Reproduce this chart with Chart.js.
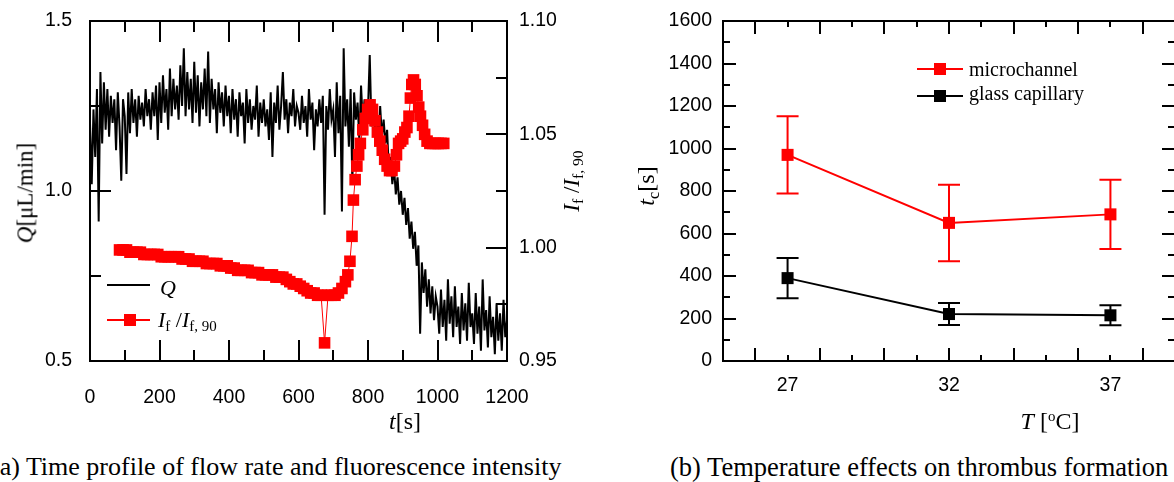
<!DOCTYPE html>
<html>
<head>
<meta charset="utf-8">
<script src="https://cdn.jsdelivr.net/npm/chart.js@4"></script>
<style>
  html, body { margin: 0; padding: 0; background: #fff; }
  body { width: 1174px; height: 482px; position: relative; overflow: hidden; }
  canvas { position: absolute; top: 0; }
  #chartA { left: 0; }
  #chartB { left: 600px; }
  .lbl { position: absolute; font-family: "Liberation Serif", "Times New Roman", serif; white-space: nowrap; line-height: 1; color: #000; }
  .ctr { transform: translate(-50%, -50%); }
  .rot { transform: translate(-50%, -50%) rotate(-90deg); }
  .lbl sub { font-size: 0.68em; vertical-align: -0.3em; line-height: 0; }
  .lbl sup { font-size: 0.62em; vertical-align: 0.55em; line-height: 0; }
  .ln { position: absolute; height: 2px; }
  .sq { position: absolute; width: 12px; height: 12px; }
</style>
</head>
<body>
<canvas id="chartA" width="600" height="440"></canvas>
<canvas id="chartB" width="580" height="440"></canvas>

<!-- panel (a) titles and legend -->
<div class="lbl rot" style="left:25px; top:193px; font-size:23px;"><i>Q</i>[μL/min]</div>
<div class="lbl rot" style="left:571px; top:181px; font-size:23px;"><i>I</i><sub>f</sub> /<i>I</i><sub>f, 90</sub></div>
<div class="lbl ctr" style="left:405px; top:421px; font-size:24px;"><i>t</i>[s]</div>
<div class="ln" style="left:107px; top:284px; width:43px; background:#000;"></div>
<div class="lbl" style="left:160px; top:277px; font-size:22px;"><i>Q</i></div>
<div class="ln" style="left:107px; top:319px; width:43px; background:#f00;"></div>
<div class="sq" style="left:124px; top:314px; background:#f00;"></div>
<div class="lbl" style="left:158px; top:309px; font-size:22px;"><i>I</i><sub>f</sub> /<i>I</i><sub>f, 90</sub></div>
<div class="lbl" style="left:-9px; top:454px; font-size:26px;">(a) Time profile of flow rate and fluorescence intensity</div>

<!-- panel (b) titles and legend -->
<div class="lbl rot" style="left:646px; top:186px; font-size:24px;"><i>t</i><sub>c</sub>[s]</div>
<div class="lbl ctr" style="left:1050px; top:421px; font-size:24px;"><i>T</i> [<sup>o</sup>C]</div>
<div class="ln" style="left:917px; top:68px; width:46px; background:#f00;"></div>
<div class="sq" style="left:934px; top:63px; background:#f00;"></div>
<div class="lbl" style="left:969px; top:59px; font-size:20px;">microchannel</div>
<div class="ln" style="left:917px; top:95px; width:46px; background:#000;"></div>
<div class="sq" style="left:934px; top:90px; background:#000;"></div>
<div class="lbl" style="left:969px; top:83px; font-size:20px;">glass capillary</div>
<div class="lbl" style="left:670px; top:454px; font-size:26.5px;">(b) Temperature effects on thrombus formation</div>

<script>
// ---- panel (a): flow rate Q, sampled every 5 s from 0 to 1200 s ----
const qStart = 0;
const qStep = 5;
const qValues = [
  1.20,1.02,1.24,1.10,1.30,0.91,1.35,1.14,1.32,1.18,1.30,1.16,1.28,1.20,1.27,1.12,1.29,1.19,1.03,1.27,
  1.22,1.05,1.29,1.17,1.30,1.20,1.27,1.16,1.28,1.21,1.26,1.19,1.30,1.22,1.27,1.18,1.29,1.22,1.31,1.15,
  1.32,1.20,1.34,1.23,1.30,1.18,1.36,1.22,1.33,1.24,1.31,1.21,1.37,1.25,1.42,1.22,1.35,1.24,1.33,1.20,
  1.38,1.23,1.34,1.19,1.32,1.24,1.36,1.22,1.41,1.20,1.33,1.24,1.30,1.17,1.32,1.23,1.29,1.19,1.31,1.22,
  1.28,1.17,1.30,1.21,1.27,1.16,1.29,1.22,1.26,1.14,1.30,1.20,1.27,1.18,1.25,1.21,1.31,1.16,1.26,1.20,
  1.27,1.19,1.24,1.15,1.29,1.10,1.26,1.20,1.31,1.18,1.25,1.35,1.21,1.27,1.17,1.26,1.22,1.30,1.19,1.25,
  1.23,1.18,1.28,1.20,1.25,1.16,1.30,1.21,1.26,1.12,1.24,1.19,1.27,1.20,1.28,0.93,1.25,1.18,1.30,1.21,
  1.24,1.10,1.32,1.17,1.28,0.94,1.42,1.19,1.27,1.13,1.30,1.02,1.29,1.21,1.26,1.15,1.31,1.20,1.27,1.18,
  1.24,1.40,1.19,1.27,1.17,1.22,1.14,1.25,1.16,1.21,1.14,1.18,1.06,1.10,1.02,1.07,0.99,1.04,0.96,1.00,
  0.93,0.98,0.90,0.95,0.86,0.91,0.83,0.88,0.78,0.84,0.58,0.79,0.70,0.77,0.66,0.74,0.64,0.72,0.62,0.69,
  0.66,0.58,0.71,0.60,0.68,0.56,0.74,0.61,0.69,0.57,0.72,0.60,0.66,0.55,0.70,0.59,0.67,0.56,0.73,0.60,
  0.64,0.55,0.70,0.58,0.66,0.53,0.74,0.59,0.65,0.54,0.69,0.57,0.63,0.52,0.67,0.56,0.64,0.53,0.68,0.57,0.62
];

// fluorescence ratio If/If,90
const ifTimes = [
  85,95,105,115,125,135,145,155,165,175,185,195,205,215,225,235,245,255,265,275,
  285,295,305,315,325,335,345,355,365,375,385,395,405,415,425,435,445,455,465,475,
  485,495,505,515,525,535,545,555,565,575,585,595,605,615,625,635,645,655,665,675,
  685,695,705,715,725,735,742,748,754,758,763,768,773,778,785,792,799,806,813,820,
  827,834,841,848,855,862,869,876,882,888,894,900,906,912,918,922,926,931,936,941,
  946,951,957,963,970,978,986,994,1002,1010,1018
];
const ifValues = [
  0.999,0.999,0.999,0.998,0.998,0.998,0.998,0.997,0.997,0.997,0.997,0.997,0.996,0.996,0.996,0.996,0.996,0.996,0.995,0.995,
  0.995,0.994,0.994,0.994,0.994,0.993,0.993,0.993,0.993,0.992,0.992,0.992,0.991,0.991,0.990,0.990,0.990,0.990,0.989,0.989,
  0.989,0.988,0.988,0.988,0.988,0.987,0.987,0.987,0.986,0.985,0.984,0.984,0.983,0.982,0.981,0.980,0.980,0.979,0.979,0.958,
  0.979,0.979,0.979,0.980,0.982,0.985,0.988,0.994,1.005,1.021,1.030,1.036,1.041,1.046,1.052,1.057,1.061,1.063,1.061,1.056,
  1.051,1.047,1.043,1.039,1.036,1.034,1.034,1.036,1.041,1.046,1.047,1.048,1.051,1.053,1.058,1.066,1.072,1.074,1.072,1.067,
  1.062,1.058,1.054,1.050,1.047,1.046,1.046,1.046,1.046,1.046,1.046
];

// ---- panel (b): clotting time vs temperature ----
const temps = [27, 32, 37];
const microMean = [970, 650, 690];
const microErr = [182, 180, 163];
const glassMean = [390, 221, 215];
const glassErr = [95, 52, 47];
const tempLabels = [27, 32, 37];

const tickFont = { family: '"Liberation Sans", Arial, sans-serif', size: 19.5 };

// axis boxes with a set size (label gap comes from grid.tickLength)
const fixWidth = w => s => { s.width = w; };
const fixHeight = h => s => { s.height = h; };

// frame + inward ticks, drawn from the scales
const frameTicks = {
  id: 'frameTicks',
  afterDatasetsDraw(chart, args, opts) {
    const { ctx, chartArea: a } = chart;
    ctx.save();
    ctx.strokeStyle = '#000';
    ctx.lineWidth = 2;
    opts.axes.forEach(ax => {
      const s = chart.scales[ax.id];
      const n = Math.round((s.max - s.min) / ax.step);
      for (let i = 0; i <= n; i++) {
        const v = s.min + i * ax.step;
        const r = v / ax.major;
        const len = Math.abs(r - Math.round(r)) < 1e-6 ? ax.long : ax.short;
        const p = Math.round(s.getPixelForValue(v));
        ax.sides.forEach(side => {
          ctx.beginPath();
          if (side === 'bottom') { ctx.moveTo(p, a.bottom); ctx.lineTo(p, a.bottom - len); }
          if (side === 'top') { ctx.moveTo(p, a.top); ctx.lineTo(p, a.top + len); }
          if (side === 'left') { ctx.moveTo(a.left, p); ctx.lineTo(a.left + len, p); }
          if (side === 'right') { ctx.moveTo(a.right, p); ctx.lineTo(a.right - len, p); }
          ctx.stroke();
        });
      }
    });
    ctx.strokeRect(a.left, a.top, a.right - a.left, a.bottom - a.top);
    ctx.restore();
  }
};

// vertical error bars with caps
const errorBars = {
  id: 'errorBars',
  afterDatasetsDraw(chart, args, opts) {
    const { ctx } = chart;
    const xs = chart.scales.x, ys = chart.scales.y;
    ctx.save();
    ctx.lineWidth = 2;
    opts.sets.forEach(set => {
      ctx.strokeStyle = set.color;
      set.x.forEach((t, i) => {
        const px = xs.getPixelForValue(t);
        const hi = ys.getPixelForValue(set.mean[i] + set.err[i]);
        const lo = ys.getPixelForValue(set.mean[i] - set.err[i]);
        ctx.beginPath();
        ctx.moveTo(px, hi); ctx.lineTo(px, lo);
        ctx.moveTo(px - 11, hi); ctx.lineTo(px + 11, hi);
        ctx.moveTo(px - 11, lo); ctx.lineTo(px + 11, lo);
        ctx.stroke();
      });
    });
    ctx.restore();
  }
};

new Chart(document.getElementById('chartA'), {
  type: 'line',
  data: {
    datasets: [
      {
        label: 'If/If,90',
        data: ifTimes.map((t, i) => ({ x: t, y: ifValues[i] })),
        yAxisID: 'yI',
        borderColor: '#ff0000',
        backgroundColor: '#ff0000',
        borderWidth: 1,
        pointStyle: 'rect',
        pointRadius: 8.2,
        pointBorderWidth: 0,
        tension: 0
      },
      {
        label: 'Q',
        data: qValues.map((q, i) => ({ x: qStart + i * qStep, y: q })),
        yAxisID: 'yQ',
        borderColor: '#000',
        borderWidth: 2,
        pointRadius: 0,
        tension: 0
      }
    ]
  },
  options: {
    responsive: false,
    animation: false,
    devicePixelRatio: 1,
    layout: { autoPadding: false, padding: { top: 21, left: 0, right: 0, bottom: 0 } },
    plugins: {
      legend: { display: false },
      tooltip: { enabled: false },
      frameTicks: {
        axes: [
          { id: 'x', step: 100, major: 200, long: 21, short: 11, sides: ['bottom', 'top'] },
          { id: 'yQ', step: 0.25, major: 0.5, long: 21, short: 11, sides: ['left'] },
          { id: 'yI', step: 0.025, major: 0.05, long: 21, short: 11, sides: ['right'] }
        ]
      }
    },
    scales: {
      x: {
        type: 'linear', min: 0, max: 1200,
        grid: { display: false }, border: { display: false },
        ticks: { stepSize: 200, font: tickFont, color: '#000', padding: 17, maxRotation: 0, callback: v => String(v) },
        afterFit: fixHeight(79)
      },
      yQ: {
        position: 'left', min: 0.5, max: 1.5,
        grid: { display: false, tickLength: 18 }, border: { display: false },
        ticks: { stepSize: 0.5, font: tickFont, color: '#000', padding: 0, callback: v => v.toFixed(1) },
        afterFit: fixWidth(90)
      },
      yI: {
        position: 'right', min: 0.95, max: 1.10,
        grid: { display: false, tickLength: 12 }, border: { display: false },
        ticks: { stepSize: 0.05, font: tickFont, color: '#000', padding: 0, callback: v => v.toFixed(2) },
        afterFit: fixWidth(93)
      }
    }
  },
  plugins: [frameTicks]
});

new Chart(document.getElementById('chartB'), {
  type: 'line',
  data: {
    datasets: [
      {
        label: 'microchannel',
        data: temps.map((t, i) => ({ x: t, y: microMean[i] })),
        borderColor: '#ff0000', backgroundColor: '#ff0000',
        borderWidth: 2, pointStyle: 'rect', pointRadius: 8.5, pointBorderWidth: 0, tension: 0
      },
      {
        label: 'glass capillary',
        data: temps.map((t, i) => ({ x: t, y: glassMean[i] })),
        borderColor: '#000', backgroundColor: '#000',
        borderWidth: 2, pointStyle: 'rect', pointRadius: 8.5, pointBorderWidth: 0, tension: 0
      }
    ]
  },
  options: {
    responsive: false,
    animation: false,
    devicePixelRatio: 1,
    layout: { autoPadding: false, padding: { top: 21, left: 0, right: 5, bottom: 0 } },
    plugins: {
      legend: { display: false },
      tooltip: { enabled: false },
      errorBars: {
        sets: [
          { x: temps, mean: microMean, err: microErr, color: '#ff0000' },
          { x: temps, mean: glassMean, err: glassErr, color: '#000' }
        ]
      },
      frameTicks: {
        axes: [
          { id: 'x', step: 1, major: 2, long: 13, short: 6, sides: ['bottom', 'top'] },
          { id: 'y', step: 100, major: 200, long: 13, short: 7, sides: ['left', 'right'] }
        ]
      }
    },
    scales: {
      x: {
        type: 'linear', min: 25, max: 39,
        grid: { display: false }, border: { display: false },
        ticks: {
          stepSize: 1, autoSkip: false, font: tickFont, color: '#000', padding: 5, maxRotation: 0,
          callback: v => tempLabels.includes(v) ? String(v) : ''
        },
        afterFit: fixHeight(79)
      },
      y: {
        min: 0, max: 1600,
        grid: { display: false, tickLength: 11 }, border: { display: false },
        ticks: { stepSize: 200, font: tickFont, color: '#000', padding: 0, callback: v => String(v) },
        afterFit: fixWidth(123)
      }
    }
  },
  plugins: [errorBars, frameTicks]
});
</script>
</body>
</html>
